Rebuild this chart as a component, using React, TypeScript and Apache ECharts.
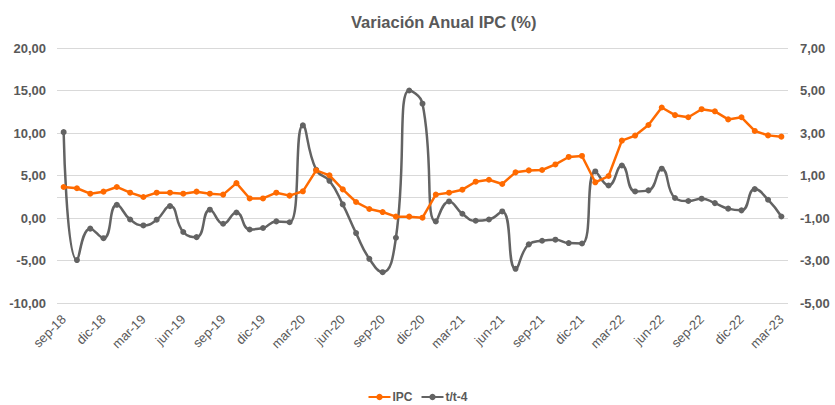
import React, { useEffect, useRef } from "react";
import * as echarts from "echarts";

const categories = [
  "sep-18", "oct-18", "nov-18", "dic-18",
  "ene-19", "feb-19", "mar-19", "abr-19", "may-19", "jun-19", "jul-19", "ago-19", "sep-19", "oct-19", "nov-19", "dic-19",
  "ene-20", "feb-20", "mar-20", "abr-20", "may-20", "jun-20", "jul-20", "ago-20", "sep-20", "oct-20", "nov-20", "dic-20",
  "ene-21", "feb-21", "mar-21", "abr-21", "may-21", "jun-21", "jul-21", "ago-21", "sep-21", "oct-21", "nov-21", "dic-21",
  "ene-22", "feb-22", "mar-22", "abr-22", "may-22", "jun-22", "jul-22", "ago-22", "sep-22", "oct-22", "nov-22", "dic-22",
  "ene-23", "feb-23", "mar-23",
];

const ipc = [
  3.65, 3.5, 2.86, 3.1, 3.65, 2.98, 2.47, 2.98, 2.98, 2.86,
  3.1, 2.86, 2.75, 4.1, 2.3, 2.3, 2.98, 2.63, 3.14, 5.6,
  5.02, 3.37, 1.88, 1.06, 0.7, 0.16, 0.16, 0.04, 2.75, 2.98,
  3.33, 4.27, 4.5, 4.0, 5.37, 5.6, 5.65, 6.3, 7.18, 7.3,
  4.2, 4.94, 9.1, 9.7, 10.94, 13.0, 12.1, 11.85, 12.8, 12.55,
  11.6, 11.85, 10.24, 9.72, 9.57,
];

const tt4 = [
  3.04, -2.98, -1.5, -1.95, -0.38, -1.07, -1.35, -1.08, -0.44, -1.66,
  -1.9, -0.61, -1.27, -0.74, -1.54, -1.47, -1.16, -1.2, 3.36, 1.27,
  0.75, -0.36, -1.71, -2.92, -3.55, -1.93, 5.0, 4.38, -1.16, -0.22,
  -0.8, -1.13, -1.07, -0.69, -3.39, -2.24, -2.07, -2.02, -2.18, -2.2,
  1.19, 0.53, 1.47, 0.25, 0.3, 1.32, -0.06, -0.2, -0.09, -0.3,
  -0.56, -0.64, 0.36, -0.14, -0.93,
];

const FONT = "'Liberation Sans', Arial, sans-serif";
const GRAY = "#595959";
const ORANGE = "#FF6A00";
const DARK = "#636363";

const fmt = (v: number) => v.toFixed(2).replace(".", ",");

export default function App() {
  const ref = useRef<HTMLDivElement>(null);
  useEffect(() => {
    document.body.style.margin = "0";
    const chart = echarts.init(ref.current!, null, { renderer: "svg" });
    chart.setOption({
      animation: false,
      backgroundColor: "#ffffff",
      textStyle: { fontFamily: FONT },
      title: {
        text: "Variación Anual IPC (%)",
        left: 346,
        top: 8,
        textStyle: { fontFamily: FONT, fontSize: 16.5, fontWeight: "bold", color: GRAY },
      },
      legend: {
        bottom: -3,
        left: "center",
        itemWidth: 22,
        itemHeight: 8,
        itemGap: 8,
        textStyle: { fontFamily: FONT, fontSize: 12, fontWeight: "bold", color: GRAY, padding: [0, 0, 0, -3] },
        data: ["IPC", "t/t-4"],
      },
      grid: { left: 57, right: 47, top: 48, bottom: 102, containLabel: false },
      xAxis: {
        type: "category",
        data: categories,
        boundaryGap: true,
        axisLine: { show: false },
        axisTick: { show: false },
        axisLabel: {
          interval: 2,
          rotate: 45,
          fontFamily: FONT,
          fontSize: 13,
          color: GRAY,
          margin: 14,
        },
      },
      yAxis: [
        {
          type: "value",
          min: -10,
          max: 20,
          interval: 5,
          axisLine: { show: false },
          axisTick: { show: false },
          splitLine: { lineStyle: { color: "#D9D9D9", width: 1 } },
          axisLabel: { formatter: fmt, fontFamily: FONT, fontSize: 13, fontWeight: "bold", color: GRAY, margin: 11 },
        },
        {
          type: "value",
          min: -5,
          max: 7,
          interval: 2,
          axisLine: { show: false },
          axisTick: { show: false },
          splitLine: { show: false },
          axisLabel: { formatter: fmt, fontFamily: FONT, fontSize: 13, fontWeight: "bold", color: GRAY, margin: 12 },
        },
      ],
      series: [
        {
          name: "t/t-4",
          type: "line",
          yAxisIndex: 1,
          data: tt4,
          smooth: 0.5,
          symbol: "circle",
          symbolSize: 6,
          itemStyle: { color: DARK },
          lineStyle: { color: DARK, width: 2.5 },
          z: 2,
          markLine: {
            silent: true,
            symbol: "none",
            label: { show: false },
            lineStyle: { color: "#D9D9D9", width: 1, type: "solid" },
            data: [{ yAxis: 0 }],
            z: 1,
          },
        },
        {
          name: "IPC",
          type: "line",
          yAxisIndex: 0,
          data: ipc,
          symbol: "circle",
          symbolSize: 6,
          itemStyle: { color: ORANGE },
          lineStyle: { color: ORANGE, width: 2.5 },
          z: 3,
        },
      ],
    });
    return () => chart.dispose();
  }, []);
  return <div ref={ref} style={{ width: 835, height: 405 }} />;
}
